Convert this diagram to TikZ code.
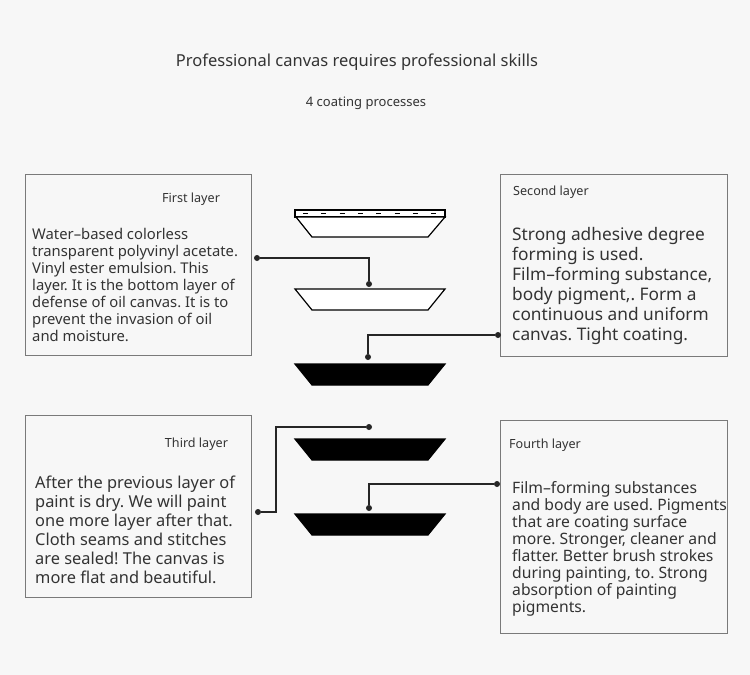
\documentclass[tikz,border=0pt]{standalone}
\usepackage{fontspec}
\setmainfont{Noto Sans}
\usetikzlibrary{positioning}
\definecolor{pagebg}{HTML}{F7F7F7}
\definecolor{inkgray}{HTML}{333333}
\definecolor{framegray}{HTML}{7A7A7A}
\frenchspacing

\begin{document}
\begin{tikzpicture}[x=1pt, y=-1pt,
    panel/.style={draw=framegray, line width=0.8pt, fill=pagebg, inner sep=0pt},
    head/.style={font=\fontsize{12.6}{14}\selectfont, text=inkgray, inner sep=0pt, anchor=base},
    body/.style={align=left, text=inkgray, inner sep=0pt, anchor=north west},
    dot/.style={circle, fill=black!85, inner sep=0pt, minimum size=6pt},
    wire/.style={draw=black!85, line width=1.1pt},
    layer/.style={draw=black, line width=1.2pt}]
  \fill[pagebg] (0,0) rectangle (750,675);
  \useasboundingbox (0,0) rectangle (750,675);
  % heading
  \node[font=\fontsize{16.5}{20}\selectfont, text=inkgray, inner sep=0pt, anchor=base] (title) at (357,66) {Professional canvas requires professional skills};
  \node[font=\fontsize{13}{15}\selectfont, text=inkgray, inner sep=0pt, anchor=base] (sub) at (366,106) {4 coating processes};
  % the four text panels
  \node[panel, minimum width=226pt, minimum height=181pt] (b1) at (138,264.5) {};
  \node[panel, minimum width=227pt, minimum height=182pt] (b2) at (613.5,265) {};
  \node[panel, minimum width=226pt, minimum height=182pt] (b3) at (138,506) {};
  \node[panel, minimum width=227pt, minimum height=213pt] (b4) at (613.5,526.5) {};
  \node[head] (h1) at (191,202) {First layer};
  \node[head] (h2) at (551,195) {Second layer};
  \node[head] (h3) at (196.5,447) {Third layer};
  \node[head] (h4) at (545,448) {Fourth layer};
  \node[body, font=\fontsize{14.8}{17}\selectfont] (t1) at (32,228) {Water–based colorless\\transparent polyvinyl acetate.\\Vinyl ester emulsion. This\\layer. It is the bottom layer of\\defense of oil canvas. It is to\\prevent the invasion of oil\\and moisture.};
  \node[body, font=\fontsize{17.3}{20}\selectfont] (t2) at (512,227) {Strong adhesive degree\\forming is used.\\Film–forming substance,\\body pigment,. Form a\\continuous and uniform\\canvas. Tight coating.};
  \node[body, font=\fontsize{16.4}{19}\selectfont] (t3) at (35,476) {After the previous layer of\\paint is dry. We will paint\\one more layer after that.\\Cloth seams and stitches\\are sealed! The canvas is\\more flat and beautiful.};
  \node[body, font=\fontsize{15.7}{17}\selectfont] (t4) at (512,481) {Film–forming substances\\and body are used. Pigments\\that are coating surface\\more. Stronger, cleaner and\\flatter. Better brush strokes\\during painting, to. Strong\\absorption of painting\\pigments.};
  % canvas layers
  \draw[layer, fill=white] (295,210) rectangle (445,217);
  \draw[black, line width=0.9pt, dash pattern=on 5pt off 13.3pt] (303,213.5) -- (440,213.5);
  \draw[layer, fill=white] (296,217) -- (445,217) -- (428,237) -- (312,237) -- cycle;
  \foreach \y/\f in {289/white, 364/black, 439/black, 514/black} {
    \draw[layer, fill=\f] (295,\y) -- (445,\y) -- (428,\y+21) -- (312,\y+21) -- cycle;
  }
  % connectors
  \node[dot] (d1a) at (257,258) {};
  \node[dot] (d1b) at (369,284) {};
  \node[dot] (d2a) at (498,335) {};
  \node[dot] (d2b) at (368,357) {};
  \node[dot] (d3a) at (258,512) {};
  \node[dot] (d3b) at (369,427) {};
  \node[dot] (d4a) at (497,484) {};
  \node[dot] (d4b) at (369,508) {};
  \draw[wire] (d1a) -| (d1b);
  \draw[wire] (d2a) -| (d2b);
  \draw[wire] (d3a) -- ++(18,0) |- (d3b);
  \draw[wire] (d4a) -| (d4b);
\end{tikzpicture}
\end{document}
